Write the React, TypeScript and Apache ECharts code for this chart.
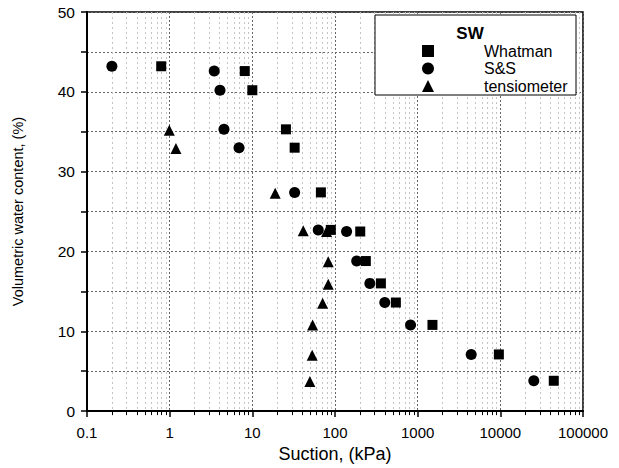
import React, { useEffect, useRef } from "react";
import * as echarts from "echarts";

const whatmanX = [0.79, 8.1, 10, 25.5, 32.5, 67.5, 89, 202, 236, 359, 545, 1510, 9600, 44300];
const whatmanY = [43.2, 42.6, 40.2, 35.3, 33.0, 27.4, 22.7, 22.5, 18.8, 16.0, 13.6, 10.8, 7.1, 3.8];

const ssX = [0.2, 3.46, 4.06, 4.54, 6.9, 32.5, 62.7, 138, 183, 264, 400, 820, 4440, 25400];
const ssY = [43.2, 42.6, 40.2, 35.3, 33.0, 27.4, 22.7, 22.5, 18.8, 16.0, 13.6, 10.8, 7.1, 3.8];

const tensX = [0.99, 1.19, 18.9, 41.3, 79, 82.8, 82.8, 70.8, 53.6, 53, 49.7];
const tensY = [35.2, 32.9, 27.3, 22.6, 22.5, 18.7, 15.9, 13.5, 10.8, 7.0, 3.7];

const seriesNames = ["Whatman", "S&S", "tensiometer"];
const legendTitle = "SW";
const xTitle = "Suction, (kPa)";
const yTitle = "Volumetric water content, (%)";

const pairs = (xs: number[], ys: number[]) => xs.map((x, i) => [x, ys[i]]);

export default function App() {
  const ref = useRef<HTMLDivElement>(null);
  useEffect(() => {
    if (!ref.current) return;
    const chart = echarts.init(ref.current, null, { renderer: "svg" });
    const font = "Liberation Sans, Arial, sans-serif";
    chart.setOption({
      animation: false,
      backgroundColor: "#fff",
      textStyle: { fontFamily: font },
      grid: {
        left: 87,
        right: 36,
        top: 12,
        bottom: 54,
        show: true,
        borderColor: "#000",
        borderWidth: 1.5,
      },
      xAxis: {
        type: "log",
        logBase: 10,
        min: 0.1,
        max: 100000,
        name: xTitle,
        nameLocation: "middle",
        nameGap: 31,
        nameTextStyle: { fontSize: 18, color: "#000", fontFamily: font },
        axisLine: { lineStyle: { color: "#000", width: 2 } },
        axisTick: { show: true, length: 6, lineStyle: { color: "#000", width: 1.5 } },
        minorTick: { show: true, splitNumber: 9, length: 4, lineStyle: { color: "#000" } },
        axisLabel: {
          fontSize: 15,
          color: "#000",
          margin: 14,
          fontFamily: font,
          formatter: (v: number) => (v < 1 ? String(Number(v.toFixed(1))) : String(Math.round(v))),
        },
        splitLine: { show: true, lineStyle: { color: "#666", type: [2, 2], width: 1 } },
        minorSplitLine: { show: true, lineStyle: { color: "#c4c4c4", type: [2, 3], width: 1 } },
      },
      yAxis: {
        type: "value",
        min: 0,
        max: 50,
        interval: 10,
        name: yTitle,
        nameLocation: "middle",
        nameGap: 62,
        nameTextStyle: { fontSize: 14.5, color: "#000", fontFamily: font },
        axisLine: { show: true, lineStyle: { color: "#000", width: 2 } },
        axisTick: { show: true, length: 6, lineStyle: { color: "#000", width: 1.5 } },
        minorTick: { show: true, splitNumber: 2, length: 6, lineStyle: { color: "#000", width: 1.5 } },
        axisLabel: { fontSize: 15.5, color: "#000", margin: 12, fontFamily: font },
        splitLine: { show: true, lineStyle: { color: "#666", type: [2, 2], width: 1 } },
        minorSplitLine: { show: true, lineStyle: { color: "#666", type: [2, 2], width: 1 } },
      },
      legend: {
        orient: "vertical",
        left: 422,
        top: 43,
        z: 60,
        padding: 0,
        itemWidth: 12,
        itemHeight: 12,
        itemGap: 1.5,
        data: seriesNames,
        textStyle: {
          fontSize: 16,
          lineHeight: 16,
          color: "#000",
          fontFamily: font,
          padding: [0, 0, 0, 45],
        },
      },
      graphic: [
        {
          type: "rect",
          shape: { x: 375, y: 15, width: 201, height: 80 },
          style: { fill: "#fff", stroke: "#000", lineWidth: 1 },
          z: 50,
        },
        {
          type: "text",
          x: 470,
          y: 33,
          style: {
            text: legendTitle,
            font: "bold 17px Liberation Sans, Arial, sans-serif",
            fill: "#000",
            align: "center",
            verticalAlign: "middle",
          },
          z: 51,
        },
      ],
      series: [
        {
          name: seriesNames[0],
          type: "scatter",
          symbol: "rect",
          symbolSize: 10,
          itemStyle: { color: "#000", opacity: 1 },
          data: pairs(whatmanX, whatmanY),
        },
        {
          name: seriesNames[1],
          type: "scatter",
          symbol: "circle",
          symbolSize: 11,
          itemStyle: { color: "#000", opacity: 1 },
          data: pairs(ssX, ssY),
        },
        {
          name: seriesNames[2],
          type: "scatter",
          symbol: "triangle",
          symbolSize: 11,
          itemStyle: { color: "#000", opacity: 1 },
          data: pairs(tensX, tensY),
        },
      ],
    });
    return () => chart.dispose();
  }, []);
  return <div ref={ref} style={{ width: 619, height: 468, position: "absolute", left: 0, top: 0 }} />;
}
